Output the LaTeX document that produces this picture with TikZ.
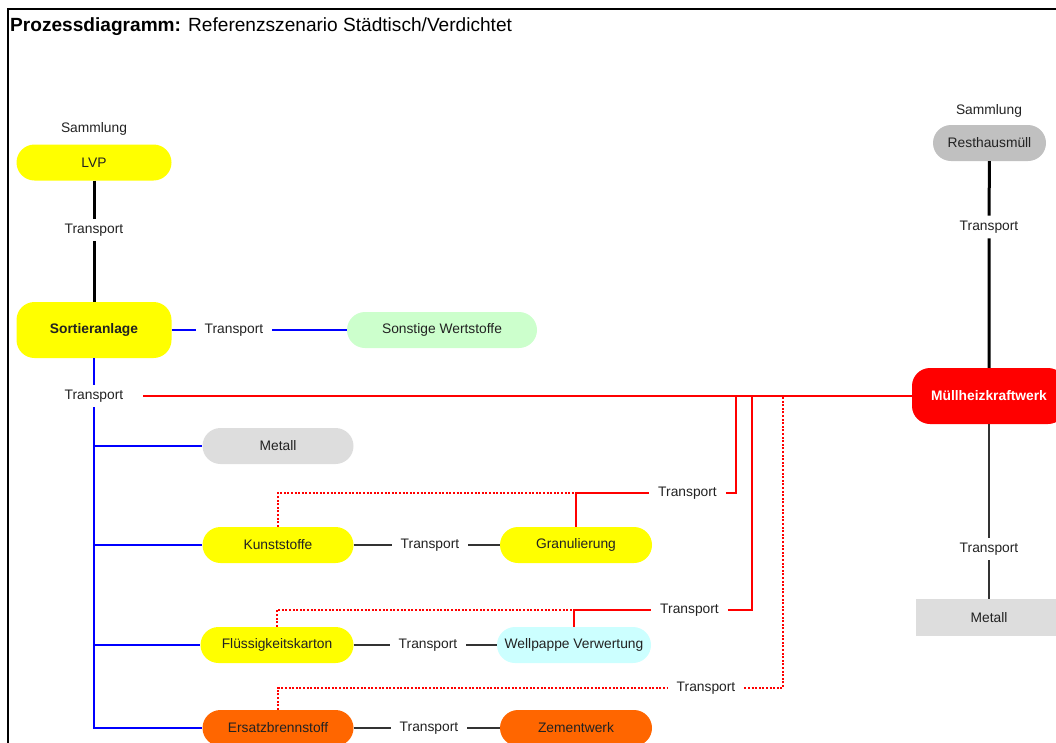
\documentclass[tikz,border=0pt]{standalone}
\usepackage{fontspec}
\setmainfont{Liberation Sans}
\definecolor{ink}{HTML}{222222}
\definecolor{lvpyellow}{HTML}{FFFF00}
\definecolor{metgray}{HTML}{DDDDDD}
\definecolor{restgray}{HTML}{C0C0C0}
\definecolor{sonstgreen}{HTML}{CCFFCC}
\definecolor{wellcyan}{HTML}{CCFFFF}
\definecolor{ebsorange}{HTML}{FF6600}
\definecolor{mhkwred}{HTML}{FF0000}
\definecolor{linkblue}{HTML}{0000FF}
\definecolor{linkgray}{HTML}{333333}
\begin{document}
\begin{tikzpicture}[x=1pt,y=-1pt,
  txt/.style={font=\fontsize{13.8}{16}\selectfont, text=ink},
  pill/.style={txt, rounded corners=18pt, minimum height=36pt, inner sep=0pt},
  tall/.style={pill, minimum height=56pt},
  flat/.style={txt, minimum height=37pt, inner sep=0pt},
  lbl/.style={txt, inner xsep=9pt, inner ysep=5pt},
  heavy/.style={draw=black, line width=3pt},
  grayline/.style={draw=linkgray, line width=1.8pt},
  blueline/.style={draw=linkblue, line width=2pt},
  redline/.style={draw=mhkwred, line width=1.5pt},
  reddots/.style={draw=mhkwred, line width=1.5pt, dash pattern=on 2pt off 1.6pt},
]
\useasboundingbox (0,0) rectangle (1056,742);

% frame and title
\draw[line width=2.2pt] (8,745) -- (8,8.6) -- (1060,8.6);
\node[anchor=base west, inner sep=0pt, font=\fontsize{19.1}{22}\selectfont, text=black]
  (title) at (10,31) {\textbf{Prozessdiagramm:} Referenzszenario Städtisch/Verdichtet};

% left chain: collection and sorting
\node[txt] (samL) at (94,129) {Sammlung};
\node[pill, fill=lvpyellow, minimum width=155pt] (lvp) at (94,162.5) {LVP};
\node[tall, fill=lvpyellow, minimum width=155pt, font=\fontsize{13.8}{16}\selectfont\bfseries] (sort) at (94,330) {Sortieranlage};
\node[pill, fill=sonstgreen, minimum width=190pt] (sonst) at (442,330) {Sonstige Wertstoffe};
\node[lbl] (t1) at (94,230) {Transport};
\node[lbl] (t2) at (234,330) {Transport};
\node[lbl] (tL) at (94,396) {Transport};

% sorted fractions
\node[pill, fill=metgray, minimum width=151pt] (metall) at (278,446) {Metall};
\node[pill, fill=lvpyellow, minimum width=151pt] (kunst) at (278,545) {Kunststoffe};
\node[pill, fill=lvpyellow, minimum width=152pt] (granul) at (576,545) {Granulierung};
\node[pill, fill=lvpyellow, minimum width=153pt] (fluess) at (277,645) {Flüssigkeitskarton};
\node[pill, fill=wellcyan, minimum width=154pt] (wellp) at (574,645) {Wellpappe Verwertung};
\node[pill, fill=ebsorange, minimum width=151pt] (ersatz) at (278,728) {Ersatzbrennstoff};
\node[pill, fill=ebsorange, minimum width=152pt] (zement) at (576,728) {Zementwerk};
\node[lbl] (tK) at (430,545) {Transport};
\node[lbl] (tF) at (428,645) {Transport};
\node[lbl] (tE) at (429,728) {Transport};
\node[lbl] (tKr) at (687.5,493) {Transport};
\node[lbl] (tFr) at (689.5,610) {Transport};
\node[lbl] (tEr) at (706,688) {Transport};

% right chain: residual waste
\node[txt] (samR) at (989,111) {Sammlung};
\node[pill, fill=restgray, minimum width=113pt] (rest) at (989.5,143) {Resthausmüll};
\node[tall, fill=mhkwred, minimum width=154pt, text=white, font=\fontsize{13.8}{16}\selectfont\bfseries] (mhkw) at (989,396) {Müllheizkraftwerk};
\node[flat, fill=metgray, minimum width=146pt] (metR) at (989,617.5) {Metall};
\node[lbl] (t4) at (989,227) {Transport};
\node[lbl] (t5) at (989,549) {Transport};

% junctions on the line to the power plant
\coordinate (j1) at (736,396);
\coordinate (j2) at (752,396);
\coordinate (j3) at (783,396);

% connectors
\draw[heavy] (lvp) -- (t1) -- (sort);
\draw[blueline] (sort) -- (t2) -- (sonst);
\draw[blueline] (sort) -- (tL);
\draw[blueline] (tL) |- (ersatz);
\draw[blueline] (tL |- metall) -- (metall);
\draw[blueline] (tL |- kunst) -- (kunst);
\draw[blueline] (tL |- fluess) -- (fluess);
\draw[redline] ([xshift=11pt]tL.east) -- (mhkw);

\draw[grayline] (kunst) -- (tK) -- (granul);
\draw[grayline] (fluess) -- (tF) -- (wellp);
\draw[grayline] (ersatz) -- (tE) -- (zement);

\draw[redline] (granul.north) |- (tKr);
\draw[reddots] (kunst.north) |- (granul.north |- tKr);
\draw[redline] (tKr) -| (j1);

\draw[redline] (wellp.north) |- (tFr);
\draw[reddots] (fluess.north) |- (wellp.north |- tFr);
\draw[redline] (tFr) -| (j2);

\draw[reddots] (ersatz.north) |- (tEr);
\draw[reddots] (tEr) -| (j3);

\draw[heavy] (rest) -- (t4) -- (t4 |- mhkw.north);
\draw[grayline] (mhkw) -- (t5) -- (metR);
\end{tikzpicture}
\end{document}
